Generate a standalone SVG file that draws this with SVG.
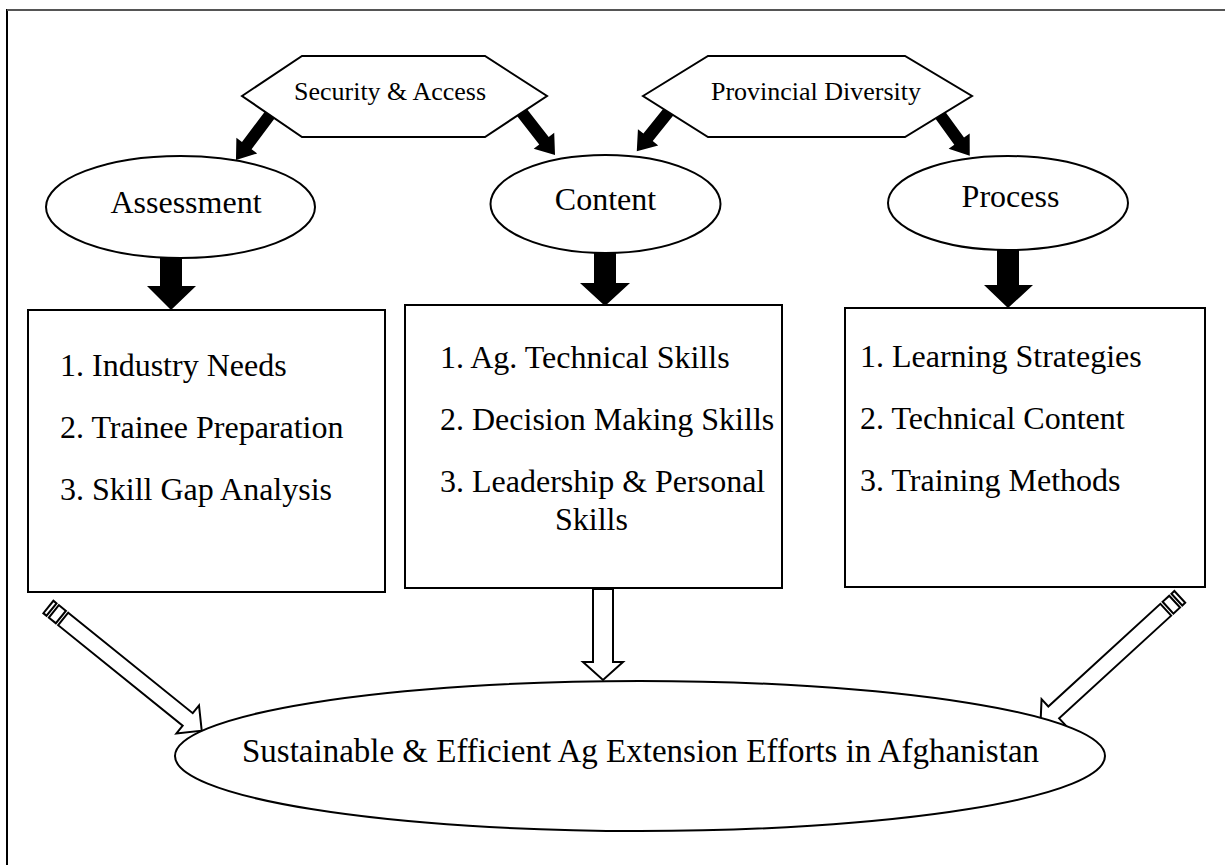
<svg xmlns="http://www.w3.org/2000/svg" width="1225" height="865" viewBox="0 0 1225 865">
<defs>
<style>
.shape{fill:#fff;stroke:#000;stroke-width:2}
.black{fill:#000;stroke:none}
.hollow{fill:#fff;stroke:#000;stroke-width:2;stroke-linejoin:miter}
text{font-family:"Liberation Serif","Times New Roman",serif;fill:#000}
.hex{font-size:26px;text-anchor:middle}
.oval{font-size:32px;text-anchor:middle}
.item{font-size:32px}
.goal{font-size:33px;text-anchor:middle}
</style>
</defs>
<rect width="1225" height="865" fill="#fff"/>
<path d="M7,865 V10 H1225" fill="none" stroke="#000" stroke-width="2"/>
<line x1="7" y1="10" x2="1225" y2="10" stroke="#555" stroke-width="2"/>

<g id="connectors">
  <!-- black arrows from hexagons -->
  <g transform="translate(272,112) rotate(126.9)"><polygon class="black" points="0,-6 42,-6 42,-13 60,0 42,13 42,6 0,6"/></g>
  <g transform="translate(520,110) rotate(52.1)"><polygon class="black" points="0,-6 39,-6 39,-13 57,0 39,13 39,6 0,6"/></g>
  <g transform="translate(670,110) rotate(128.8)"><polygon class="black" points="0,-6 35,-6 35,-13 53,0 35,13 35,6 0,6"/></g>
  <g transform="translate(938,112) rotate(54)"><polygon class="black" points="0,-6 36,-6 36,-13 54,0 36,13 36,6 0,6"/></g>
  <!-- black down arrows -->
  <polygon class="black" points="160,255 182,255 182,286 196,286 171,310 147,286 160,286"/>
  <polygon class="black" points="594,252 616,252 616,283 630,283 605,306 580,283 594,283"/>
  <polygon class="black" points="997,249 1019,249 1019,285 1033,285 1008,308 984,285 997,285"/>
  <!-- hollow arrows -->
  <g transform="translate(48.4,607) rotate(38.9)">
    <rect class="hollow" x="0" y="-8" width="4" height="16"/>
    <rect class="hollow" x="7" y="-8" width="9" height="16"/>
    <polygon class="hollow" points="19,-8 179,-8 179,-18 197,0 179,18 179,8 19,8"/>
  </g>
  <g transform="translate(1179.8,596.9) rotate(137.5)">
    <rect class="hollow" x="0" y="-8" width="4" height="16"/>
    <rect class="hollow" x="7" y="-8" width="9" height="16"/>
    <polygon class="hollow" points="19,-8 171,-8 171,-18 189,0 171,18 171,8 19,8"/>
  </g>
  <polygon class="hollow" points="593,589 613,589 613,662 623,662 603,680 583,662 593,662"/>
</g>

<g id="security">
  <polygon class="shape" points="242,96 302,56 485,56 547,96 485,137 302,137"/>
  <text class="hex" x="390" y="100">Security &amp; Access</text>
</g>
<g id="provincial">
  <polygon class="shape" points="643,96 708,56 905,56 972,96 905,137 708,137"/>
  <text class="hex" x="816" y="100">Provincial Diversity</text>
</g>

<g id="assessment">
  <ellipse class="shape" cx="180.5" cy="207" rx="134.5" ry="51"/>
  <text class="oval" x="186" y="213">Assessment</text>
</g>
<g id="content">
  <ellipse class="shape" cx="605.5" cy="204" rx="115" ry="49"/>
  <text class="oval" x="605.5" y="210">Content</text>
</g>
<g id="process">
  <ellipse class="shape" cx="1008" cy="203" rx="120" ry="47"/>
  <text class="oval" x="1010.5" y="207">Process</text>
</g>

<g id="box-assessment">
  <rect class="shape" x="28" y="310" width="357" height="282"/>
  <text class="item" x="60" y="376">1. Industry Needs</text>
  <text class="item" x="60" y="438">2. Trainee Preparation</text>
  <text class="item" x="60" y="500">3. Skill Gap Analysis</text>
</g>
<g id="box-content">
  <rect class="shape" x="405" y="305" width="377" height="283"/>
  <text class="item" x="440" y="368">1. Ag. Technical Skills</text>
  <text class="item" x="440" y="430">2. Decision Making Skills</text>
  <text class="item" x="440" y="492">3. Leadership &amp; Personal</text>
  <text class="item" x="555" y="530">Skills</text>
</g>
<g id="box-process">
  <rect class="shape" x="845" y="308" width="360" height="279"/>
  <text class="item" x="860" y="367">1. Learning Strategies</text>
  <text class="item" x="860" y="429">2. Technical Content</text>
  <text class="item" x="860" y="491">3. Training Methods</text>
</g>

<g id="goal">
  <ellipse class="shape" cx="640" cy="756" rx="465" ry="75"/>
  <text class="goal" x="640.5" y="762">Sustainable &amp; Efficient Ag Extension Efforts in Afghanistan</text>
</g>
</svg>
